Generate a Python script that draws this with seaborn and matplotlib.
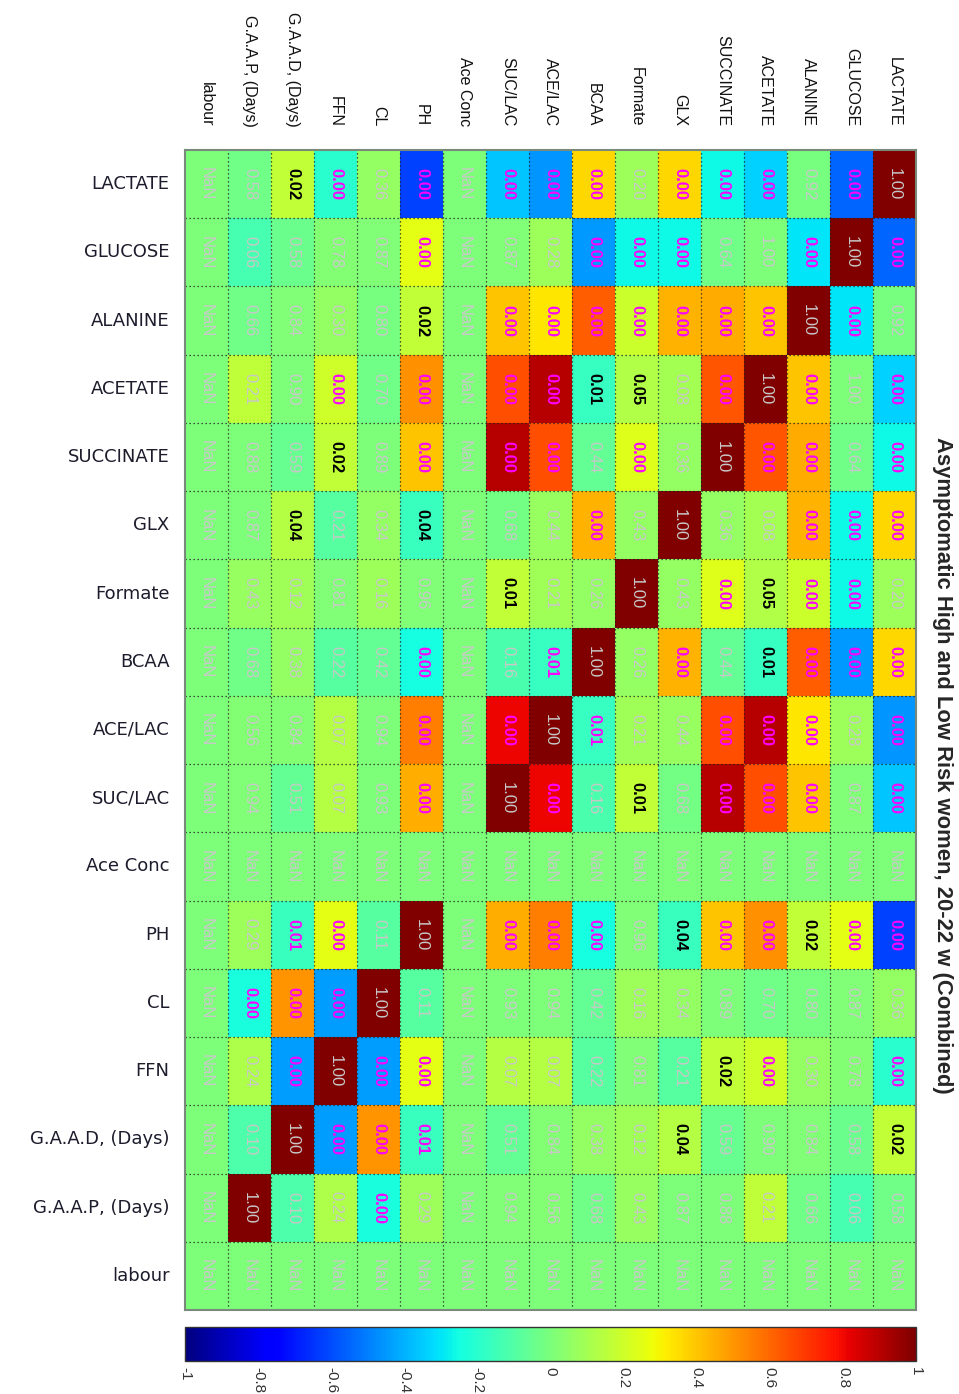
import numpy as np
import pandas as pd
import matplotlib
matplotlib.use("Agg")
import matplotlib.pyplot as plt
import seaborn as sns

nan = np.nan

variables = ["LACTATE", "GLUCOSE", "ALANINE", "ACETATE", "SUCCINATE", "GLX",
             "Formate", "BCAA", "ACE/LAC", "SUC/LAC", "Ace Conc", "PH", "CL",
             "FFN", "G.A.A.D, (Days)", "G.A.A.P, (Days)", "labour"]
unmeasured = ["Ace Conc", "labour"]

# Correlation coefficients, lower triangle (row i holds columns 0..i-1)
r_lower = [
    [],
    [-0.55],
    [-0.01, -0.30],
    [-0.34, 0.00, 0.40],
    [-0.26, -0.03, 0.46, 0.64],
    [0.36, -0.26, 0.44, 0.10, 0.06],
    [0.08, -0.26, 0.19, 0.13, 0.24, 0.06],
    [0.36, -0.45, 0.62, -0.17, -0.06, 0.44, 0.06],
    [-0.46, 0.08, 0.33, 0.90, 0.65, 0.07, 0.09, -0.17],
    [-0.36, 0.01, 0.40, 0.65, 0.90, -0.02, 0.17, -0.12, 0.81],
    [nan] * 10,
    [-0.62, 0.25, 0.17, 0.51, 0.40, -0.16, 0.01, -0.25, 0.55, 0.45, nan],
    [0.06, 0.01, -0.01, -0.03, 0.00, 0.06, 0.08, -0.06, 0.00, 0.00, nan, -0.09],
    [-0.20, 0.02, 0.06, 0.20, 0.17, -0.09, 0.01, -0.09, 0.14, 0.14, nan, 0.25, -0.44],
    [0.17, -0.04, 0.01, 0.00, -0.05, 0.14, 0.09, 0.06, 0.02, -0.06, nan, -0.16, 0.50, -0.44],
    [-0.03, -0.13, -0.03, 0.16, 0.00, 0.00, 0.07, -0.03, 0.02, 0.01, nan, 0.08, -0.24, 0.12, -0.11],
    [nan] * 16,
]

# p-values, lower triangle
p_lower = [
    [],
    [0.00],
    [0.92, 0.00],
    [0.00, 1.00, 0.00],
    [0.00, 0.64, 0.00, 0.00],
    [0.00, 0.00, 0.00, 0.08, 0.36],
    [0.20, 0.00, 0.00, 0.05, 0.00, 0.43],
    [0.00, 0.00, 0.00, 0.01, 0.44, 0.00, 0.26],
    [0.00, 0.28, 0.00, 0.00, 0.00, 0.44, 0.21, 0.006],
    [0.00, 0.87, 0.00, 0.00, 0.00, 0.68, 0.01, 0.16, 0.00],
    [nan] * 10,
    [0.00, 0.00, 0.02, 0.00, 0.00, 0.04, 0.96, 0.00, 0.00, 0.00, nan],
    [0.36, 0.87, 0.80, 0.70, 0.89, 0.34, 0.16, 0.42, 0.94, 0.93, nan, 0.11],
    [0.00, 0.78, 0.30, 0.00, 0.02, 0.21, 0.81, 0.22, 0.07, 0.07, nan, 0.00, 0.00],
    [0.02, 0.58, 0.84, 0.90, 0.59, 0.04, 0.12, 0.38, 0.84, 0.51, nan, 0.008, 0.00, 0.00],
    [0.58, 0.06, 0.66, 0.21, 0.88, 0.87, 0.43, 0.68, 0.56, 0.94, nan, 0.29, 0.00, 0.24, 0.10],
    [nan] * 16,
]

title = "Asymptomatic High and Low Risk women, 20-22 w (Combined)"
cbar_ticks = [-1, -0.8, -0.6, -0.4, -0.2, 0, 0.2, 0.4, 0.6, 0.8, 1]


def symmetric(lower, diag):
    n = len(variables)
    m = np.full((n, n), np.nan)
    for i, row in enumerate(lower):
        for j, v in enumerate(row):
            m[i, j] = m[j, i] = v
    for i, name in enumerate(variables):
        if name not in unmeasured:
            m[i, i] = diag
    return m


R = symmetric(r_lower, 1.0)
P = symmetric(p_lower, 1.0)

# columns run in reverse order, so the diagonal goes from top-right to bottom-left
cols = variables[::-1]
R_disp = pd.DataFrame(R[:, ::-1], index=variables, columns=cols)
P_disp = P[:, ::-1]

sns.set_theme(style="white")
plt.rcParams["font.family"] = ["Liberation Sans", "DejaVu Sans"]

W, H = 959, 1394
fig = plt.figure(figsize=(W / 100, H / 100), dpi=100)
fig.patch.set_facecolor("white")


def frac(x0, y0, x1, y1):
    return [x0 / W, 1 - y1 / H, (x1 - x0) / W, (y1 - y0) / H]


ax = fig.add_axes(frac(185, 150, 916, 1310))
cax = fig.add_axes(frac(185, 1327, 916, 1361))

cmap = plt.get_cmap("jet").copy()
ax.set_facecolor(cmap(0.5))

sns.heatmap(R_disp, ax=ax, cmap=cmap, vmin=-1, vmax=1, cbar=True, cbar_ax=cax,
            cbar_kws={"orientation": "horizontal", "ticks": cbar_ticks},
            xticklabels=True, yticklabels=True, linewidths=0)

n = len(variables)
for k in range(1, n):
    ax.axhline(k, color="#222222", lw=0.9, ls=(0, (1, 2.2)))
    ax.axvline(k, color="#222222", lw=0.9, ls=(0, (1, 2.2)))

for i in range(n):
    for j in range(n):
        p = P_disp[i, j]
        if np.isnan(p):
            txt, color, weight = "NaN", "#c8c8c8", "normal"
        elif p < 0.01:
            txt, color, weight = f"{p:.2f}", "#ff00ff", "bold"
        elif p <= 0.05:
            txt, color, weight = f"{p:.2f}", "black", "bold"
        else:
            txt, color, weight = f"{p:.2f}", "#c8c8c8", "normal"
        ax.text(j + 0.5, i + 0.5, txt, rotation=-90, ha="center", va="center",
                fontsize=12, color=color, fontweight=weight)

# row labels on the left
ax.set_yticks(np.arange(n) + 0.5)
ax.set_yticklabels(variables, rotation=0, fontsize=13,
                   family=["DejaVu Sans"], color="#1c1c2c")
ax.tick_params(axis="y", length=0, pad=11)

# column labels along the top
ax.xaxis.tick_top()
ax.set_xticks(np.arange(n) + 0.5)
ax.set_xticklabels(cols, rotation=-90, fontsize=11.5, color="#111111")
ax.tick_params(axis="x", length=0, pad=17)
ax.set_xlabel("")
ax.set_ylabel("")

for s in ax.spines.values():
    s.set_visible(True)
    s.set_color("#7a8a7a")
    s.set_linewidth(1.5)

# colour bar
cbar = ax.collections[0].colorbar
cbar.outline.set_edgecolor("#333333")
cbar.outline.set_linewidth(1.0)
cax.tick_params(axis="x", direction="in", length=4, width=0.8, color="#333333",
                labelsize=11, pad=4, labelcolor="#333333")
cax.set_xticks(cbar_ticks)
cax.set_xticklabels([f"{t:g}" for t in cbar_ticks], rotation=-90)

fig.text(942 / W, 1 - 765 / H, title, rotation=-90, ha="center", va="center",
         fontsize=15.8, fontweight="bold",
         family=["Liberation Sans Narrow", "Liberation Sans", "DejaVu Sans"])

fig.savefig("out.png", dpi=100, facecolor="white")
